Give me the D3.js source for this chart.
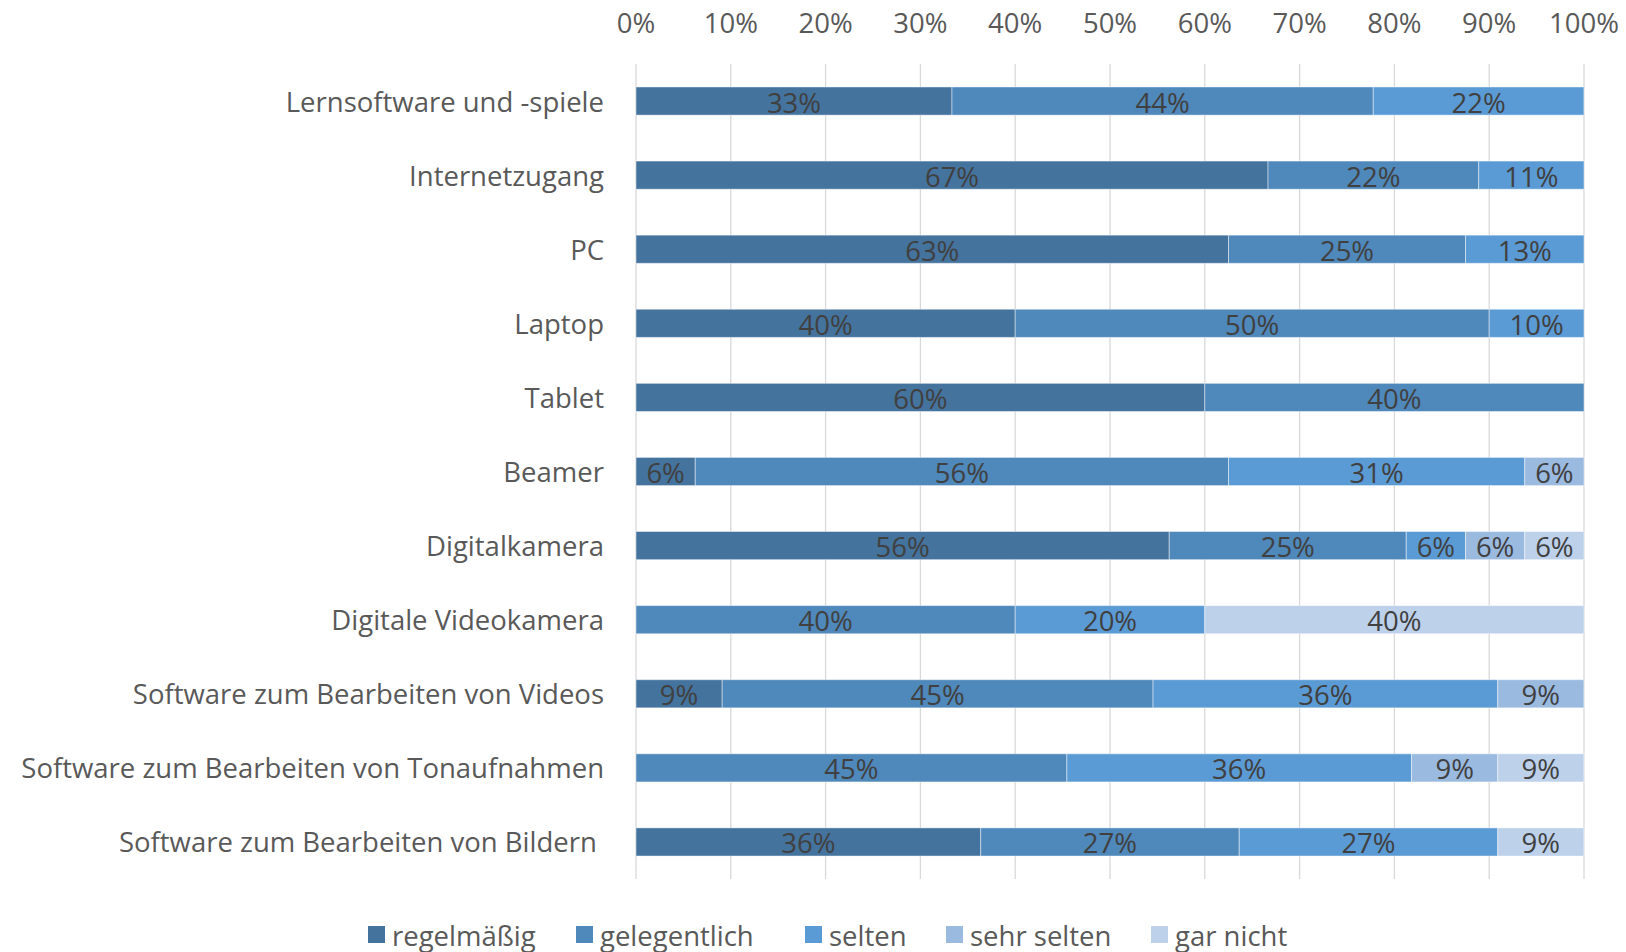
<!DOCTYPE html>
<meta charset="utf-8">
<script src="https://d3js.org/d3.v7.min.js"></script>
<style>
  body { margin: 0; background: #fff; }
  text { font-family: "Open Sans", sans-serif; }
</style>
<div id="chart"></div>
<script>

// data (shares of 100%)
var categories = [
  "Lernsoftware und -spiele",
  "Internetzugang",
  "PC",
  "Laptop",
  "Tablet",
  "Beamer",
  "Digitalkamera",
  "Digitale Videokamera",
  "Software zum Bearbeiten von Videos",
  "Software zum Bearbeiten von Tonaufnahmen",
  "Software zum Bearbeiten von Bildern "
];
var seriesNames = ["regelmäßig", "gelegentlich", "selten", "sehr selten", "gar nicht"];
var regelmaessig = [33.33, 66.67, 62.5, 40, 60, 6.25, 56.25, 0, 9.09, 0, 36.36];
var gelegentlich = [44.44, 22.22, 25, 50, 40, 56.25, 25, 40, 45.45, 45.45, 27.27];
var selten       = [22.22, 11.11, 12.5, 10, 0, 31.25, 6.25, 20, 36.36, 36.36, 27.27];
var sehrSelten   = [0, 0, 0, 0, 0, 6.25, 6.25, 0, 9.09, 9.09, 0];
var garNicht     = [0, 0, 0, 0, 0, 0, 6.25, 40, 0, 9.09, 9.09];
var xTicks = [0, 10, 20, 30, 40, 50, 60, 70, 80, 90, 100];

var colors = ["#44739e", "#4f88bb", "#5b9bd5", "#9bbae0", "#bdd1ea"];

var rows = categories.map(function(c, i) {
  return {
    cat: c,
    "regelmäßig": regelmaessig[i],
    "gelegentlich": gelegentlich[i],
    "selten": selten[i],
    "sehr selten": sehrSelten[i],
    "gar nicht": garNicht[i]
  };
});

var W = 1626, H = 952;
var margin = {top: 64, right: 42, bottom: 73, left: 636};
var width = W - margin.left - margin.right,
    height = H - margin.top - margin.bottom;
var fs = "27.5px";

var svg = d3.select("#chart").append("svg")
    .attr("width", W)
    .attr("height", H);

var g = svg.append("g")
    .attr("transform", "translate(" + margin.left + "," + margin.top + ")");

var x = d3.scaleLinear().domain([0, 100]).range([0, width]);
var y = d3.scaleBand().domain(categories).range([0, height]).paddingInner(0.62).paddingOuter(0.31);

// gridlines
g.selectAll(".grid")
  .data(xTicks)
  .enter().append("line")
    .attr("x1", function(d) { return x(d); })
    .attr("x2", function(d) { return x(d); })
    .attr("y1", 0)
    .attr("y2", height)
    .style("stroke", "#d9d9d9")
    .style("stroke-width", 1.3);

// top axis labels
g.selectAll(".tick-label")
  .data(xTicks)
  .enter().append("text")
    .attr("x", function(d) { return x(d); })
    .attr("y", -42)
    .attr("text-anchor", "middle")
    .attr("dominant-baseline", "central")
    .style("font-size", fs)
    .style("fill", "#595959")
    .text(function(d) { return d + "%"; });

// category labels
g.selectAll(".cat-label")
  .data(categories)
  .enter().append("text")
    .attr("x", -32)
    .attr("y", function(d) { return y(d) + y.bandwidth() / 2; })
    .attr("text-anchor", "end")
    .attr("dominant-baseline", "central")
    .style("font-size", fs)
    .style("fill", "#595959")
    .style("white-space", "pre")
    .text(function(d) { return d; });

var stack = d3.stack().keys(seriesNames);
var layers = stack(rows);

var layer = g.selectAll(".layer")
  .data(layers)
  .enter().append("g")
    .style("fill", function(d, i) { return colors[i]; });

layer.selectAll("rect")
  .data(function(d) { return d.filter(function(p) { return p[1] - p[0] > 0; }); })
  .enter().append("rect")
    .attr("x", function(d) { return x(d[0]); })
    .attr("y", function(d) { return y(d.data.cat); })
    .attr("width", function(d) { return x(d[1]) - x(d[0]); })
    .attr("height", y.bandwidth())
    .style("stroke", "rgba(255,255,255,0.45)")
    .style("stroke-width", 1);

layer.selectAll(".val")
  .data(function(d) { return d.filter(function(p) { return p[1] - p[0] > 0; }); })
  .enter().append("text")
    .attr("x", function(d) { return x((d[0] + d[1]) / 2); })
    .attr("y", function(d) { return y(d.data.cat) + y.bandwidth() / 2 + 1; })
    .attr("text-anchor", "middle")
    .attr("dominant-baseline", "central")
    .style("font-size", fs)
    .style("fill", "#404040")
    .text(function(d) { return Math.round(d[1] - d[0]) + "%"; });

// legend
var legendX = [368, 576, 805, 946, 1151];
var legend = svg.selectAll(".legend")
  .data(seriesNames)
  .enter().append("g")
    .attr("transform", function(d, i) { return "translate(" + legendX[i] + ",935)"; });

legend.append("rect")
  .attr("x", 0).attr("y", -9)
  .attr("width", 17).attr("height", 17)
  .style("fill", function(d, i) { return colors[i]; });

legend.append("text")
  .attr("x", 24)
  .attr("y", 0)
  .attr("dominant-baseline", "central")
  .style("font-size", fs)
  .style("fill", "#595959")
  .text(function(d) { return d; });

</script>
